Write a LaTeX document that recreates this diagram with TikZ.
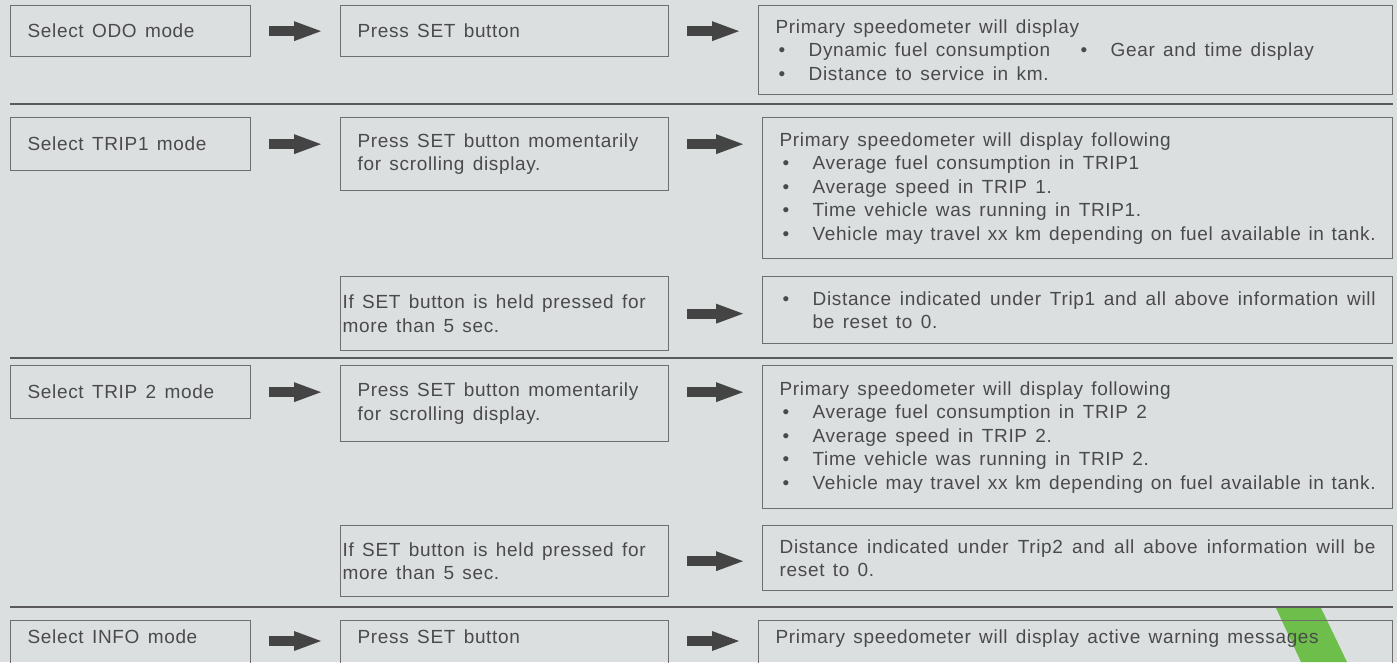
\documentclass[tikz,border=0pt]{standalone}
\usepackage{fontspec}
\setmainfont[WordSpace=1.4,LetterSpace=3.5]{Liberation Sans}
\usetikzlibrary{arrows.meta}
\usepackage{xcolor}
\definecolor{panel}{HTML}{DCDFE0}
\definecolor{ink}{HTML}{4A4A4A}
\definecolor{frame}{HTML}{6E6E6E}
\definecolor{rulegray}{HTML}{5A5A5A}
\definecolor{arrowgray}{HTML}{444444}
\definecolor{leaf}{HTML}{6DBE4B}

\newcommand{\itm}[1]{\makebox[33pt][l]{\hspace{3pt}\textbullet}#1}

\begin{document}
\begin{tikzpicture}
  [x=1pt,y=-1pt,
   every node/.style={draw=frame,line width=1.3pt,text=ink,align=justify,
     font=\fontsize{19}{23.5}\selectfont,inner xsep=17pt,inner ysep=4pt,
     anchor=north west},
   modebox/.style={text width=206pt},
   stepbox/.style={text width=294pt},
   holdbox/.style={text width=324pt,inner xsep=2pt},
   infobox/.style={text width=596pt},
   blockarrow/.style={arrowgray,line width=10pt,
     -{Triangle[length=27pt,width=20pt,line width=0pt]},
     shorten <=18pt,shorten >=19pt},
   sepline/.style={rulegray,line width=1.6pt}]
  \useasboundingbox (0,0) rectangle (1397,662);
  \clip (0,0) rectangle (1397,662);
  \fill[panel] (0,0) rectangle (1397,662);

  % green stripe at the bottom
  \fill[leaf] (1276,608) -- (1321,608) -- (1347,662) -- (1301,662) -- cycle;

  % separators
  \draw[sepline] (10,104) -- (1393,104);
  \draw[sepline] (10,358) -- (1393,358);
  \draw[sepline] (10,607) -- (1393,607);

  % ODO
  \node[modebox,minimum height=51pt] (a1) at (10,5)  {Select ODO mode};
  \node[stepbox,minimum height=51pt] (b1) at (340,5) {Press SET button};
  \node[infobox,text width=600pt,minimum height=89pt] (c1) at (758,5)
    {Primary speedometer will display\\
     \makebox[302pt][l]{\itm{Dynamic fuel consumption}}\itm{Gear and time display}\\
     \itm{Distance to service in km.}};

  % TRIP1
  \node[modebox,minimum height=53pt] (a2) at (10,117) {Select TRIP1 mode};
  \node[stepbox,minimum height=73pt] (b2) at (340,117)
    {Press SET button momentarily\\for scrolling display.};
  \node[infobox,minimum height=141pt] (c2) at (762,117)
    {Primary speedometer will display following\\
     \itm{Average fuel consumption in TRIP1}\\
     \itm{Average speed in TRIP 1.}\\
     \itm{Time vehicle was running in TRIP1.}\\
     \itm{Vehicle may travel xx km depending on fuel available in tank.}};
  \node[holdbox,minimum height=74pt] (b3) at (340,276)
    {If SET button is held pressed for\\more than 5 sec.};
  \node[infobox,minimum height=67pt] (c3) at (762,276)
    {\itm{\parbox[t]{563pt}{\rightskip=0pt\parfillskip=0pt plus 1fil
      Distance indicated under Trip1 and all above information will\linebreak be reset to 0.}}};

  % TRIP 2
  \node[modebox,minimum height=53pt] (a3) at (10,365) {Select TRIP 2 mode};
  \node[stepbox,minimum height=76pt] (b4) at (340,365)
    {Press SET button momentarily\\for scrolling display.};
  \node[infobox,minimum height=143pt] (c4) at (762,365)
    {Primary speedometer will display following\\
     \itm{Average fuel consumption in TRIP 2}\\
     \itm{Average speed in TRIP 2.}\\
     \itm{Time vehicle was running in TRIP 2.}\\
     \itm{Vehicle may travel xx km depending on fuel available in tank.}};
  \node[holdbox,minimum height=71pt] (b5) at (340,525)
    {If SET button is held pressed for\\more than 5 sec.};
  \node[infobox,minimum height=65pt] (c5) at (762,525)
    {Distance indicated under Trip2 and all above information will be\linebreak reset to 0.};

  % INFO
  \node[modebox,minimum height=62pt] (a4) at (10,620) {Select INFO mode\\ \strut};
  \node[stepbox,minimum height=62pt] (b6) at (340,620) {Press SET button\\ \strut};
  \node[infobox,text width=600pt,minimum height=62pt] (c6) at (758,620)
    {Primary speedometer will display active warning messages\\ \strut};
  \coordinate (r4) at (0,641);

  \foreach \from/\to/\lvl in {a1/b1/a1,b1/c1/a1,a2/b2/a2,b2/c2/a2,b3/c3/b3,
                              a3/b4/a3,b4/c4/a3,b5/c5/b5,a4/b6/r4,b6/c6/r4}
    \draw[blockarrow] (\from.east |- \lvl) -- (\to.west |- \lvl);

\end{tikzpicture}
\end{document}
